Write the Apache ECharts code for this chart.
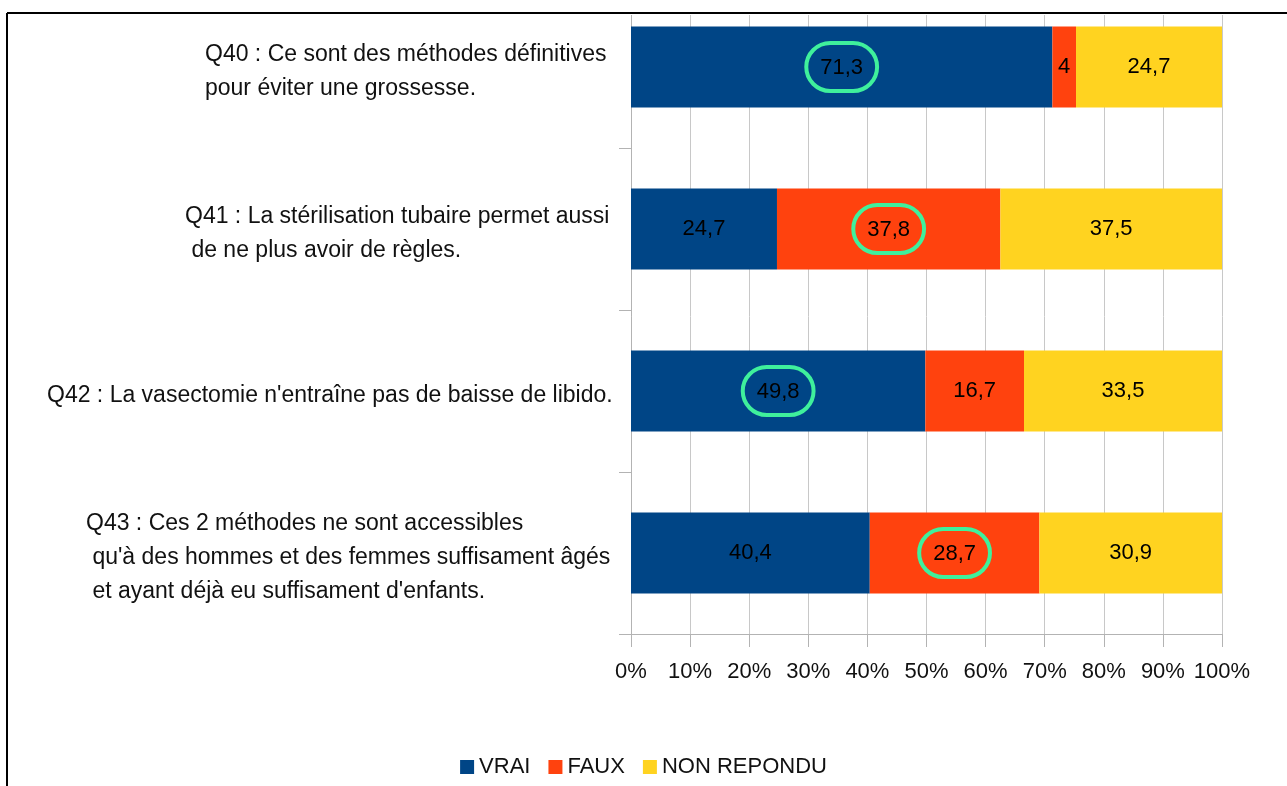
<!DOCTYPE html>
<html>
<head>
<meta charset="utf-8">
<script src="https://cdn.jsdelivr.net/npm/echarts@6/dist/echarts.min.js"></script>
<style>
  html, body { margin: 0; padding: 0; background: #fff; }
  #chart { width: 1287px; height: 786px; }
</style>
</head>
<body>
<div id="chart"></div>
<script>
// donnees du graphique
const questions = [
  ['Q40 : Ce sont des méthodes définitives', 'pour éviter une grossesse.'],
  ['Q41 : La stérilisation tubaire permet aussi', ' de ne plus avoir de règles.'],
  ['Q42 : La vasectomie n\'entraîne pas de baisse de libido.'],
  ['Q43 : Ces 2 méthodes ne sont accessibles', ' qu\'à des hommes et des femmes suffisament âgés', ' et ayant déjà eu suffisament d\'enfants.']
];
const seriesNames = ['VRAI', 'FAUX', 'NON REPONDU'];
const vrai = [71.3, 24.7, 49.8, 40.4];
const faux = [4, 37.8, 16.7, 28.7];
const nonRepondu = [24.7, 37.5, 33.5, 30.9];
const entoure = ['VRAI', 'FAUX', 'VRAI', 'FAUX']; // valeur entouree en vert par question
const xTicks = [0, 10, 20, 30, 40, 50, 60, 70, 80, 90, 100];

const couleurs = ['#004586', '#ff420e', '#ffd320'];
const police = '"Liberation Sans", Arial, sans-serif';

const categories = questions.map(q => q.join('\n'));

const makeSerie = (name, values, color) => ({
  name: name,
  type: 'bar',
  stack: 'total',
  barWidth: '50%',
  itemStyle: { color: color },
  label: {
    show: true,
    position: 'inside',
    color: '#000',
    fontFamily: police,
    fontSize: 22,
    formatter: p => {
      const txt = String(p.value).replace('.', ',');
      return entoure[p.dataIndex] === name ? '{o|' + txt + '}' : txt;
    },
    rich: {
      o: {
        color: '#000',
        fontFamily: police,
        fontSize: 22,
        borderColor: '#3ff09c',
        borderWidth: 4,
        borderRadius: 30,
        padding: [14, 14, 12, 14]
      }
    }
  },
  emphasis: { disabled: true },
  data: values
});

const pads = [158, 138, 0, 39];

const getOption = () => ({
  animation: false,
  legend: {
    data: seriesNames,
    left: 'center',
    top: 751,
    icon: 'rect',
    itemWidth: 14,
    itemHeight: 14,
    itemGap: 18,
    textStyle: { fontFamily: police, fontSize: 22, color: '#111' }
  },
  grid: { left: 631, right: 65, top: -14, height: 648, outerBoundsMode: 'none' },
  xAxis: {
    type: 'value',
    min: 0,
    max: 100,
    interval: 10,
    axisLine: { show: true, lineStyle: { color: '#b3b3b3' } },
    axisTick: { show: true, length: 13, lineStyle: { color: '#b3b3b3' } },
    splitLine: { show: true, lineStyle: { color: '#c8c8c8' } },
    axisLabel: {
      margin: 27,
      color: '#111',
      fontFamily: police,
      fontSize: 22,
      formatter: v => xTicks.includes(v) ? v + '%' : ''
    }
  },
  yAxis: {
    type: 'category',
    inverse: true,
    data: categories,
    axisLine: { show: true, lineStyle: { color: '#b3b3b3' } },
    axisTick: { show: true, length: 12, lineStyle: { color: '#b3b3b3' } },
    axisLabel: {
      interval: 0,
      align: 'left',
      margin: 584,
      padding: [10, 0, 0, 0],
      formatter: (v, i) => v.split('\n').map(l => '{s' + i + '| }{t|' + l + '}').join('\n'),
      rich: {
        s0: { width: pads[0] },
        s1: { width: pads[1] },
        s2: { width: pads[2] },
        s3: { width: pads[3] },
        t: { fontFamily: police, fontSize: 23, color: '#111', lineHeight: 34 }
      }
    }
  },
  graphic: [
    { type: 'rect', z: 100, shape: { x: 0, y: 0, width: 1287, height: 15 }, style: { fill: '#fff' } },
    { type: 'line', z: 101, shape: { x1: 7, y1: 13, x2: 1287, y2: 13 }, style: { stroke: '#000', lineWidth: 2 } },
    { type: 'line', z: 101, shape: { x1: 7, y1: 13, x2: 7, y2: 786 }, style: { stroke: '#000', lineWidth: 2 } }
  ],
  series: [
    makeSerie(seriesNames[0], vrai, couleurs[0]),
    makeSerie(seriesNames[1], faux, couleurs[1]),
    makeSerie(seriesNames[2], nonRepondu, couleurs[2])
  ]
});

window.addEventListener('load', () => {
  const chart = echarts.init(document.getElementById('chart'));
  chart.setOption(getOption());
});
</script>
</body>
</html>
